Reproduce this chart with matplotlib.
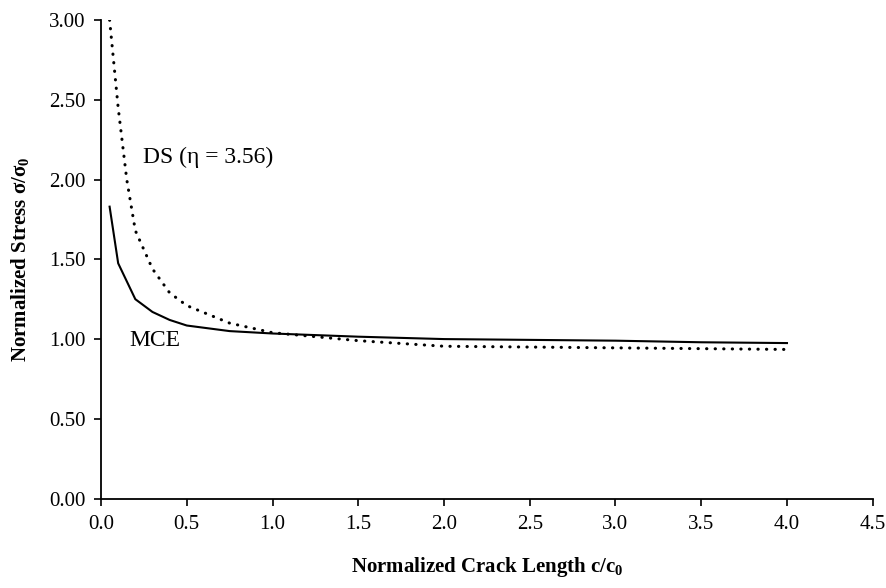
import matplotlib
matplotlib.use("Agg")
import matplotlib.pyplot as plt

plt.rcParams["font.family"] = ["Liberation Serif", "DejaVu Serif"]
plt.rcParams["mathtext.fontset"] = "custom"
plt.rcParams["mathtext.rm"] = "Liberation Serif:bold"
plt.rcParams["mathtext.bf"] = "Liberation Serif:bold"

# Normalized crack length c/c0
mce_x = [0.05, 0.1, 0.2, 0.3, 0.4, 0.5, 0.75, 1.0, 1.5, 2.0, 2.5, 3.0, 3.5, 4.0]
# Modified crack extension model, sigma/sigma0
mce_y = [1.83, 1.475, 1.25, 1.17, 1.12, 1.085, 1.05, 1.035, 1.015, 1.0, 0.995, 0.99, 0.98, 0.975]

ds_x = [0.05, 0.1, 0.15, 0.2, 0.3, 0.4, 0.5, 0.75, 1.0, 1.5, 2.0, 2.5, 3.0, 3.5, 4.0]
# DS model (eta = 3.56), sigma/sigma0
ds_y = [3.00, 2.45, 2.00, 1.68, 1.44, 1.29, 1.21, 1.10, 1.04, 0.99, 0.955, 0.95, 0.945, 0.94, 0.935]

x_ticks = [0.0, 0.5, 1.0, 1.5, 2.0, 2.5, 3.0, 3.5, 4.0, 4.5]
y_ticks = [0.0, 0.5, 1.0, 1.5, 2.0, 2.5, 3.0]

fig = plt.figure(figsize=(8.87, 5.88), dpi=100)
ax = fig.add_axes([0.1139, 0.152, 0.870, 0.814])

ax.plot(mce_x, mce_y, color="black", lw=1.5, solid_joinstyle="miter")
ax.plot(ds_x, ds_y, color="black", lw=2.2, linestyle=(0, (0.1, 2.7)),
        dash_capstyle="round")

ax.text(0.244, 2.14, "DS (η = 3.56)", fontsize=17, va="center", ha="left")
ax.text(0.163, 0.99, "MCE", fontsize=17, va="center", ha="left")

ax.set_xlim(0, 4.5)
ax.set_ylim(0, 3.0)
ax.set_xticks(x_ticks)
ax.set_xticklabels([f"{v:.1f}" for v in x_ticks])
ax.set_yticks(y_ticks)
ax.set_yticklabels([f"{v:.2f}" for v in y_ticks])
ax.tick_params(direction="out", length=5, width=1.2, labelsize=15)
ax.tick_params(axis="x", pad=7)
ax.tick_params(axis="y", pad=6)

for side in ("top", "right"):
    ax.spines[side].set_visible(False)
for side in ("left", "bottom"):
    ax.spines[side].set_linewidth(1.3)

ax.set_xlabel("Normalized Crack Length c/c$_0$", fontsize=15, fontweight="bold")
ax.set_ylabel("Normalized Stress σ/σ$_0$", fontsize=15, fontweight="bold")
ax.xaxis.set_label_coords(0.5, -0.118)
ax.yaxis.set_label_coords(-0.09, 0.5)

fig.savefig("out.png", dpi=100)
